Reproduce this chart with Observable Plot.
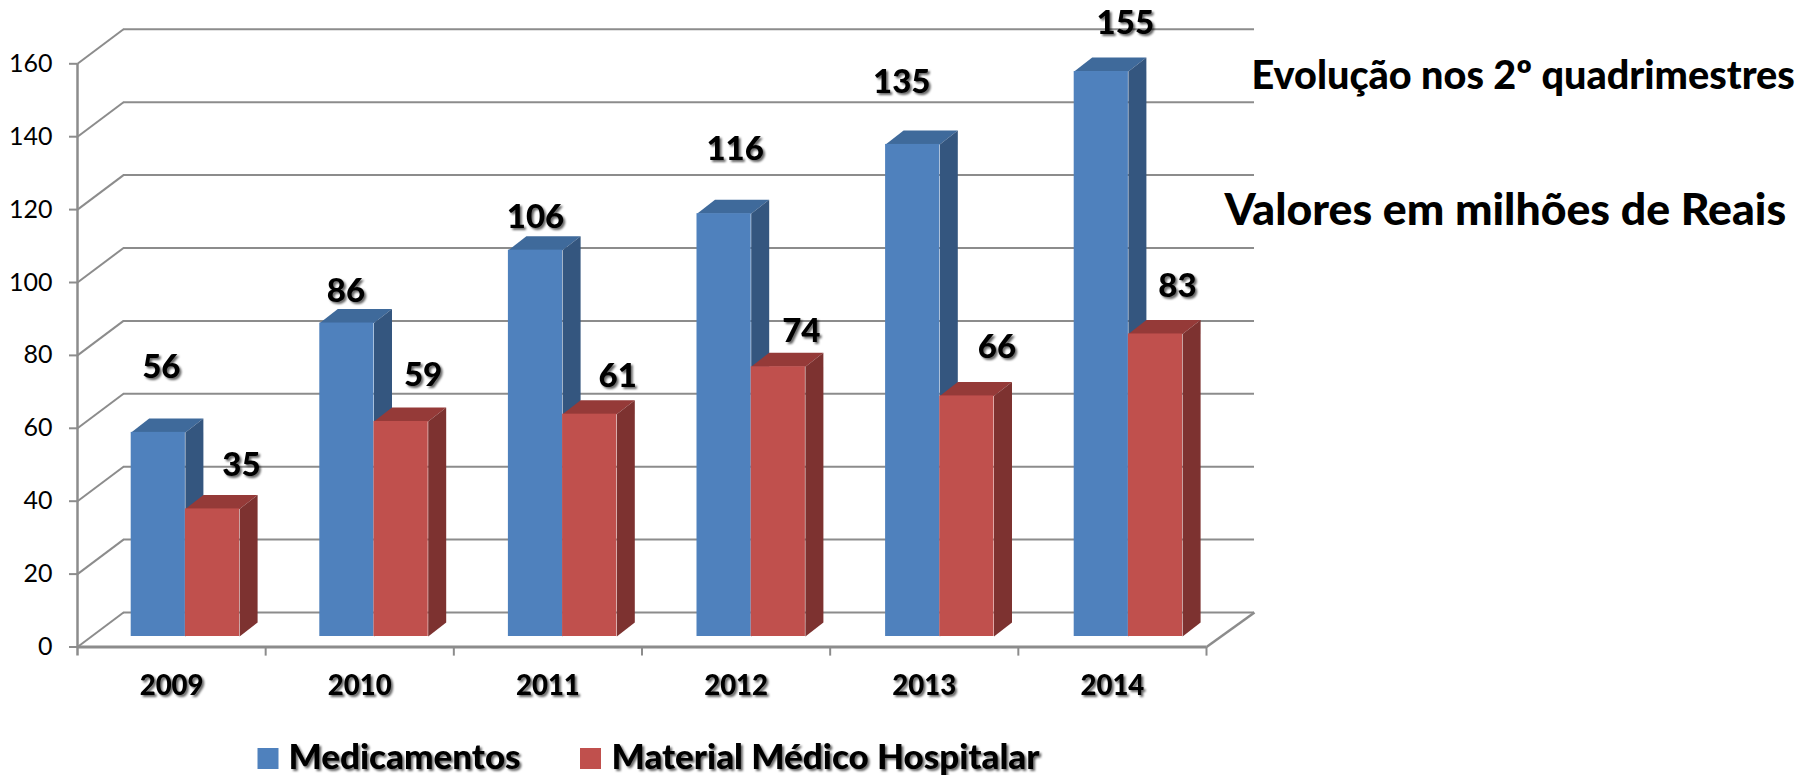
<!DOCTYPE html>
<html lang="pt">
<head>
<meta charset="utf-8">
<script src="https://cdn.jsdelivr.net/npm/d3@7"></script>
<script src="https://cdn.jsdelivr.net/npm/@observablehq/plot@0.6"></script>
<style>
  html, body { margin: 0; padding: 0; background: #fff; }
  svg { display: block; }
</style>
</head>
<body>
<div id="chart"></div>
<script>
// Data
const years = ["2009", "2010", "2011", "2012", "2013", "2014"];
const medicamentos = [56, 86, 106, 116, 135, 155];
const material = [35, 59, 61, 74, 66, 83];
const seriesNames = ["Medicamentos", "Material Médico Hospitalar"];
const yTicks = [0, 20, 40, 60, 80, 100, 120, 140, 160];
const notes = ["Evolução nos 2º quadrimestres", "Valores em milhões de Reais"];
// Hand-placed label offsets (px) from the top of each bar's front face
const medLabelOffsets = [[3, -65], [-1, -32], [0, -33], [11, -64], [-11, -62], [24, -48]];
const matLabelOffsets = [[29, -43], [22, -46], [28, -38], [23, -35], [30, -48], [22, -48]];

// Layout
const W = 1808, H = 775;
const left = 77, right = 1206, top_ = 63.3, zero = 646.5;
const xU = 6 / (right - left);      // data units per px
const yU = 160 / (zero - top_);
const wallDX = 46 * xU, wallDY = 34.5 * yU, wallEnd = 6 + 48 * xU;
const liftX = 14 * xU, liftY = 10.5 * yU;     // bars stand off the front edge of the floor
const depthX = 18 * xU, depthY = 14 * yU;     // bar depth
const gap = 39.7 * xU, barW = 54.2 * xU, pitch = 188.6 * xU;

const colors = {
  blue: {front: "#4F81BD", top: "#3F6A9B", side: "#34567F"},
  red: {front: "#C0504D", top: "#953A38", side: "#7D3230"}
};
const grid = "#8C8C8C";

function bars(values, slot, c) {
  return values.map((v, i) => {
    const x1 = i * pitch + gap + slot * barW + liftX;
    return {x1, x2: x1 + barW, y1: liftY, y2: v + liftY, fill: c.front, i, v};
  });
}
function faces(rows, c) {
  return rows.flatMap(r => {
    const dx = depthX, dy = depthY;
    const side = [[r.x2, r.y1], [r.x2 + dx, r.y1 + dy], [r.x2 + dx, r.y2 + dy], [r.x2, r.y2]];
    const top = [[r.x1, r.y2], [r.x1 + dx, r.y2 + dy], [r.x2 + dx, r.y2 + dy], [r.x2, r.y2]];
    return [
      ...top.map(([x, y]) => ({x, y, id: "t" + r.i, fill: c.top})),
      ...side.map(([x, y]) => ({x, y, id: "s" + r.i, fill: c.side}))
    ];
  });
}
const blueBars = bars(medicamentos, 0, colors.blue);
const redBars = bars(material, 1, colors.red);

function labelMarks(rows, offsets) {
  return rows.map((r, k) => Plot.text([r], {
    x: d => (d.x1 + d.x2) / 2, y: "y2", text: d => String(d.v),
    dx: offsets[k][0], dy: offsets[k][1],
    fontSize: 33, fontWeight: 900, fontFamily: "Lato", fill: "#000",
    textAnchor: "middle", lineAnchor: "middle"
  }));
}
function faceMark(rows, c) {
  return Plot.line(faces(rows, c), {x: "x", y: "y", z: "id", fill: "fill", stroke: "none"});
}
function fixedText(text, x, y, size) {
  return Plot.text([text], {
    frameAnchor: "top-left", text: d => d, dx: x - left, dy: y - top_,
    fontSize: size, fontWeight: 900, fontFamily: "Lato", fill: "#000",
    textAnchor: "start", lineAnchor: "middle"
  });
}
function swatch(x, y, color) {
  return Plot.dot([0], {
    frameAnchor: "top-left", dx: x - left, dy: y - top_, symbol: "square",
    r: 21 / Math.sqrt(Math.PI), fill: color, stroke: "none"
  });
}

const chart = Plot.plot({
  width: W, height: H,
  marginLeft: left, marginRight: W - right, marginTop: top_, marginBottom: H - zero,
  x: {type: "linear", domain: [0, 6], axis: null},
  y: {domain: [0, 160], axis: null},
  color: {type: "identity"},
  style: {background: "#fff", fontFamily: "Lato"},
  marks: [
    // back wall and left oblique gridlines
    Plot.ruleY(yTicks, {y: d => d + wallDY, x1: wallDX, x2: wallEnd, stroke: grid, strokeWidth: 2}),
    Plot.link(yTicks, {x1: 0, y1: d => d, x2: wallDX, y2: d => d + wallDY, stroke: grid, strokeWidth: 2}),
    Plot.link([0], {x1: 6, y1: 0, x2: wallEnd, y2: wallDY, stroke: grid, strokeWidth: 2.5}),
    // axis lines
    Plot.ruleX([0], {y1: -2.5, y2: 160, stroke: grid, strokeWidth: 2.5}),
    Plot.ruleY([0], {x1: 0, x2: 6, stroke: grid, strokeWidth: 3}),
    Plot.ruleX(d3.range(1, 7), {x: d => d, y1: 0, y2: -2.5, stroke: grid, strokeWidth: 2}),
    // y axis ticks and labels
    Plot.axisY(yTicks, {tickSize: 8, tickPadding: 17, stroke: grid, strokeWidth: 2, fontSize: 25, fontFamily: "Lato", fill: "#000", label: null, anchor: "left"}),
    // x axis labels
    Plot.axisX(years.map((_, i) => i + 0.5), {
      tickSize: 0, tickPadding: 28, tickFormat: d => years[Math.floor(d)], label: null,
      fontSize: 27.5, fontWeight: 900, fontFamily: "Lato", fill: "#000", anchor: "bottom"
    }),
    // bars
    faceMark(blueBars, colors.blue),
    Plot.rect(blueBars, {x1: "x1", x2: "x2", y1: "y1", y2: "y2", fill: "fill"}),
    faceMark(redBars, colors.red),
    Plot.rect(redBars, {x1: "x1", x2: "x2", y1: "y1", y2: "y2", fill: "fill"}),
    // data labels
    ...labelMarks(blueBars, medLabelOffsets),
    ...labelMarks(redBars, matLabelOffsets),
    // notes
    fixedText(notes[0], 1251, 76, 39.6),
    fixedText(notes[1], 1224, 210, 44.6),
    // legend
    swatch(267.5, 758, colors.blue.front),
    fixedText(seriesNames[0], 288, 757, 35),
    swatch(590, 758, colors.red.front),
    fixedText(seriesNames[1], 611, 757, 35)
  ]
});
// Soft shadow on bold chart text (not on the two notes)
chart.querySelectorAll("text").forEach(t => {
  const bold = t.closest('[font-weight="900"]');
  if (bold && !notes.includes(t.textContent)) {
    t.style.filter = "drop-shadow(2px 2px 1.2px rgba(0,0,0,.6))";
  }
});
document.getElementById("chart").append(chart);
</script>
</body>
</html>
